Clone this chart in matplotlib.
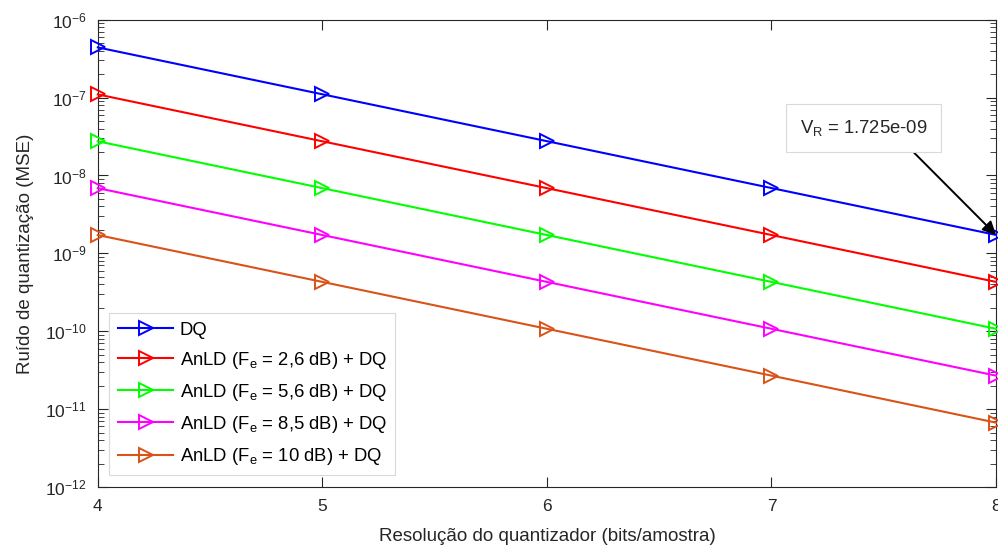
import numpy as np
import matplotlib.pyplot as plt
from matplotlib.ticker import FixedLocator, NullFormatter

plt.rcParams['font.family'] = ['Liberation Sans', 'DejaVu Sans']

bits = [4, 5, 6, 7, 8]
mse_dq = [4.416e-7, 1.104e-7, 2.76e-8, 6.9e-9, 1.725e-9]
mse_26 = [1.10e-7, 2.75e-8, 6.88e-9, 1.72e-9, 4.3e-10]
mse_56 = [2.75e-8, 6.88e-9, 1.72e-9, 4.3e-10, 1.075e-10]
mse_85 = [6.88e-9, 1.72e-9, 4.3e-10, 1.075e-10, 2.69e-11]
mse_10 = [1.72e-9, 4.3e-10, 1.075e-10, 2.69e-11, 6.7e-12]

labels = ["DQ",
          "AnLD (F$_\\mathregular{e}$ = 2,6 dB) + DQ",
          "AnLD (F$_\\mathregular{e}$ = 5,6 dB) + DQ",
          "AnLD (F$_\\mathregular{e}$ = 8,5 dB) + DQ",
          "AnLD (F$_\\mathregular{e}$ = 10 dB) + DQ"]
colors = ["#0000FF", "#FF0000", "#00FF00", "#FF00FF", "#D95319"]
series = [mse_dq, mse_26, mse_56, mse_85, mse_10]

fig = plt.figure(figsize=(9.98, 5.49), dpi=100)
ax = fig.add_axes([0.098, 0.113, 0.900, 0.851])

for s, c, l in zip(series, colors, labels):
    ax.semilogy(bits, s, color=c, lw=1.5, marker='>', markersize=9.5,
                markerfacecolor='none', markeredgewidth=1.4, label=l,
                clip_on=False, zorder=3)

ax.set_xlim(4, 8)
ax.set_ylim(1e-12, 1e-6)
ax.set_xticks(bits)
majors = [10.0 ** e for e in range(-12, -5)]
minors = [m * 10.0 ** e for e in range(-12, -6) for m in range(2, 10)]
ax.yaxis.set_major_locator(FixedLocator(majors))
ax.yaxis.set_minor_locator(FixedLocator(minors))
ax.yaxis.set_minor_formatter(NullFormatter())
ax.tick_params(which='both', direction='in', top=True, right=True,
               colors='#262626', labelsize=12.5)
ax.tick_params(axis='x', which='major', length=7, pad=9)
ax.tick_params(axis='y', which='major', length=7, pad=8)
ax.tick_params(which='minor', length=4)
for sp in ax.spines.values():
    sp.set_color('#262626')
    sp.set_linewidth(0.8)

ax.set_xlabel("Resolução do quantizador (bits/amostra)", fontsize=13.5,
              color='#262626', labelpad=10)
ax.set_ylabel("Ruído de quantização (MSE)", fontsize=13.5, color='#262626',
              labelpad=8)

leg = ax.legend(loc='lower left', bbox_to_anchor=(0.013, 0.025), fontsize=13.3,
                fancybox=False, edgecolor='#D9D9D9', framealpha=1,
                handlelength=3.0, handletextpad=0.35, borderpad=0.45,
                labelspacing=0.6, borderaxespad=0.0)
leg.get_frame().set_linewidth(0.8)

ax.annotate("V$_\\mathregular{R}$ = 1.725e-09", xy=(8, mse_dq[4]), xytext=(7.41, 4.1e-8),
            fontsize=13.3, ha='center', va='center', color='#262626',
            bbox=dict(boxstyle='square,pad=0.75', fc='white', ec='#D9D9D9', lw=0.8),
            arrowprops=dict(arrowstyle='-|>', color='black', lw=1.4,
                            mutation_scale=20, shrinkA=0, shrinkB=0,
                            relpos=(0.78, 0)))

fig.savefig("out.png", dpi=100)
